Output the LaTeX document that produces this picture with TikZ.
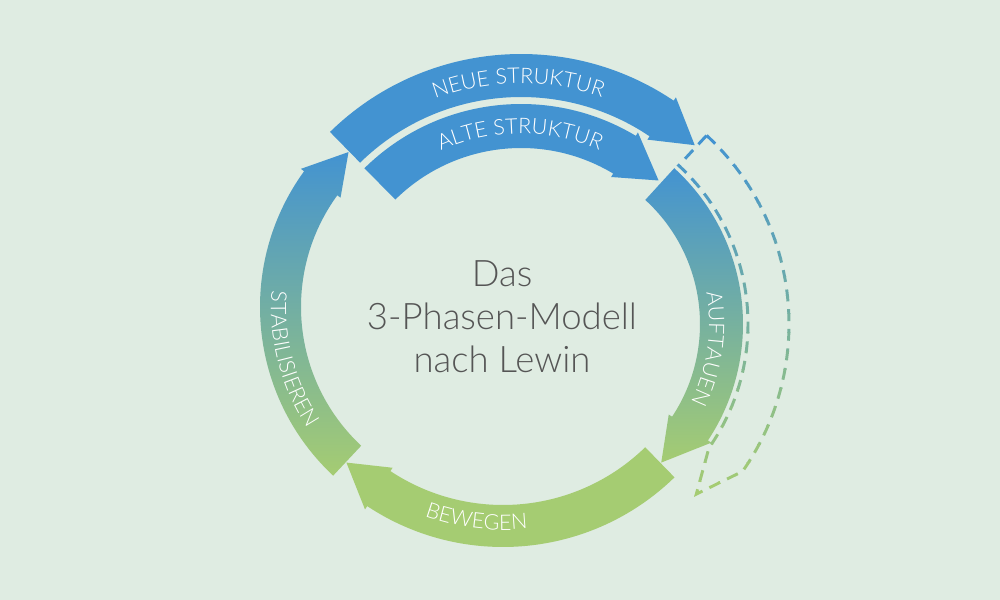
\documentclass[tikz,border=0pt]{standalone}
\usepackage{fontspec}
\setmainfont{Lato Light}
\usetikzlibrary{decorations.text}
\definecolor{lewinblue}{HTML}{4393D1}
\definecolor{lewingreen}{HTML}{A5CC72}
\definecolor{paper}{HTML}{DFECE2}
\definecolor{ink}{HTML}{555555}
\newcommand\labelsize{\fontsize{15.3}{18}\selectfont}
% band with head: {barb}{r in}{r out}{tail angle}{head base}{tip angle}
\newcommand\arrowband[6]{%
  (#4:#3) arc[start angle=#4, end angle=#5, radius=#3]
  -- (#5:{#3+#1}) -- (#6:{(#2+#3)/2}) -- (#5:{#2-#1})
  -- (#5:#2) arc[start angle=#5, end angle=#4, radius=#2] -- cycle}

\begin{document}
\begin{tikzpicture}[x=0.25mm, y=0.25mm,
    bandtext/.style={decorate, decoration={text along path, text align=center,
        text color=white, text={|\labelsize|#1}}},
    ghost/.style={line width=2.1pt, dash pattern=on 8.5pt off 5.5pt}]
  \path[use as bounding box, fill=paper] (0,0) rectangle (1000,600);
  % ---- top pair: new and old structure ----
  \begin{scope}[shift={(521,273)}]
    \fill[lewinblue] \arrowband{4}{230}{273}{134.4}{56}{46.3};
    \fill[lewinblue] \arrowband{4}{179}{223}{134.6}{59}{46.8};
    \path[bandtext={NEUE STRUKTUR}] (135:243.5) arc[start angle=135, end angle=46.2, radius=243.5];
    \path[bandtext={ALTE STRUKTUR}] (135:193.5) arc[start angle=135, end angle=45.6, radius=193.5];
  \end{scope}
  % ---- right: unfreeze ----
  \begin{scope}[shift={(532,276)}]
    \shade[top color=lewinblue, bottom color=lewingreen] \arrowband{4}{168}{211}{47.6}{-33.5}{-47};
    \path[bandtext={AUFTAUEN}] (30:177) arc[start angle=30, end angle=-46, radius=177];
  \end{scope}
  % ---- bottom: move ----
  \begin{scope}[shift={(503,299)}]
    \fill[lewingreen] \arrowband{4}{204}{246}{-45.8}{-123.5}{-134.1};
    \path[bandtext={BEWEGEN}] (-140:229) arc[start angle=-140, end angle=-53.8, radius=229];
  \end{scope}
  % ---- left: refreeze ----
  \begin{scope}[shift={(491,293)}]
    \shade[top color=lewinblue, bottom color=lewingreen] \arrowband{4}{190}{231}{226.9}{144}{132.6};
    \path[bandtext={STABILISIEREN}] (150:220) arc[start angle=150, end angle=239.2, radius=220];
  \end{scope}
  % ---- dashed ghost band, blue fading to green ----
  \foreach \k in {0,...,19}{
    \pgfmathsetmacro\mix{100*\k/19}
    \begin{scope}
      \clip (600,{472-18.6*\k}) rectangle (820,{472-18.6*(\k+1)});
      \draw[ghost, lewingreen!\mix!lewinblue, shift={(532,276)}]
        \arrowband{0}{216}{257}{47.2}{-35}{-46};
    \end{scope}
  }
  % ---- title ----
  \node[font=\fontsize{26}{30.6}\selectfont, text=ink, align=center] (title)
    at (502,283) {Das\\3-Phasen-Modell\\nach Lewin};
\end{tikzpicture}
\end{document}
